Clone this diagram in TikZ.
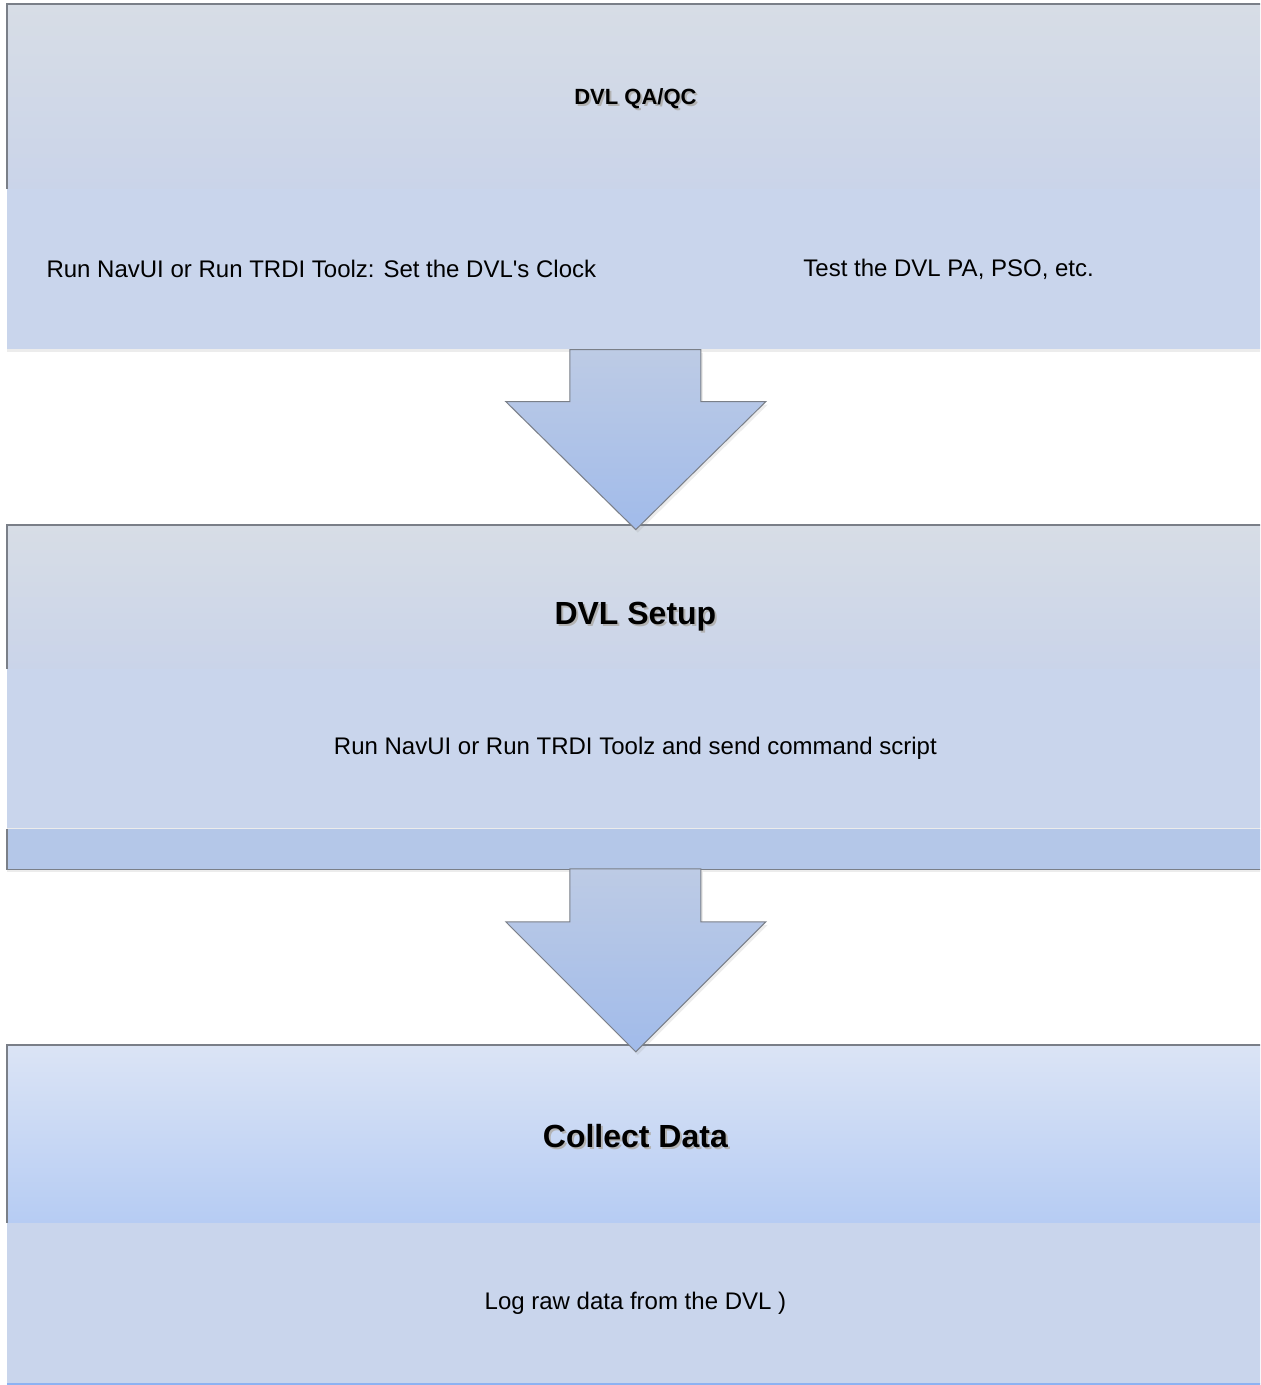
\documentclass[tikz,border=0pt]{standalone}
\usepackage{fontspec}
\setmainfont{Liberation Sans}
\usetikzlibrary{positioning,shadows}

\definecolor{hdtop}{HTML}{D7DDE6}
\definecolor{hdbot}{HTML}{CAD4E9}
\definecolor{bodyfill}{HTML}{C9D5EC}
\definecolor{stripfill}{HTML}{B4C7E8}
\definecolor{cdtop}{HTML}{DBE4F5}
\definecolor{cdbot}{HTML}{B6CCF3}
\definecolor{arrtop}{HTML}{BDCBE5}
\definecolor{arrbot}{HTML}{A1BBEA}
\definecolor{edgegray}{HTML}{7A7F88}
\definecolor{baseblue}{HTML}{8DB2F2}

\newcommand{\shadowed}[1]{\makebox[0pt][l]{\hspace{1pt}\raisebox{-1.1pt}{\textcolor{black!30}{#1}}}#1}

\begin{document}
\begin{tikzpicture}[x=0.5pt,y=-0.5pt,inner sep=0pt,
    boxshadow/.style={drop shadow={shadow xshift=0pt,shadow yshift=-1.5pt,opacity=0.15}},
    header/.style={rectangle,anchor=north west,minimum width=640pt,
        top color=hdtop,bottom color=hdbot,boxshadow},
    bodybox/.style={rectangle,anchor=north west,fill=bodyfill,font=\fontsize{12}{14}\selectfont,boxshadow},
    title/.style={font=\bfseries\fontsize{#1}{#1}\selectfont},
    rim/.style={draw=edgegray,line width=0.6pt},
    blockarrow/.style={draw=edgegray,line width=0.5pt,top color=arrtop,bottom color=arrbot,
        drop shadow={shadow xshift=1pt,shadow yshift=-1.5pt,opacity=0.15}}]
\useasboundingbox (0,0) rectangle (1260,1385);
\clip (0,0) rectangle (1260,1385);

% DVL QA/QC
\node[header,minimum height=92pt] (qahead) at (7,4) {};
\draw[rim] (qahead.south west) -- (qahead.north west) -- (qahead.north east);
\node[title=11] (qatitle) at ([xshift=-6pt,yshift=-1.5pt]qahead.center) {\shadowed{DVL QA/QC}};
\node[bodybox,minimum width=314pt,minimum height=80pt] (qaclock) at (qahead.south west)
    {Run NavUI or Run TRDI Toolz: Set the DVL\textquotesingle s Clock};
\node[bodybox,minimum width=326pt,minimum height=80pt] (qatest) at ([xshift=-0.8pt]qaclock.north east)
    {\hspace*{-12pt}Test the DVL PA, PSO, etc.};

% DVL Setup
\node[header,minimum height=71.5pt] (setuphead) at (7,525) {};
\draw[rim] (setuphead.south west) -- (setuphead.north west) -- (setuphead.north east);
\node[title=16] (setuptitle) at ([xshift=-6pt,yshift=-10.5pt]setuphead.center) {\shadowed{DVL Setup}};
\node[bodybox,minimum width=640pt,minimum height=79.5pt] (setupcmd) at (setuphead.south west)
    {\hspace*{-12pt}Run NavUI or Run TRDI Toolz and send command script};
\node[rectangle,anchor=north west,minimum width=640pt,minimum height=20pt,fill=stripfill,
    boxshadow] (setupstrip) at (setupcmd.south west) {};
\draw[rim] (setupstrip.north west) -- (setupstrip.south west) -- (setupstrip.south east);

% Collect Data
\node[header,minimum height=88.5pt,top color=cdtop,bottom color=cdbot] (cdhead) at (7,1045) {};
\draw[rim] (cdhead.south west) -- (cdhead.north west) -- (cdhead.north east);
\node[title=16] (cdtitle) at ([xshift=-6pt,yshift=-1.5pt]cdhead.center) {\shadowed{Collect Data}};
\node[bodybox,minimum width=640pt,minimum height=80.5pt] (cdlog) at (cdhead.south west)
    {\hspace*{-12pt}Log raw data from the DVL )};
\draw[baseblue,line width=1.2pt] (cdlog.south west) -- (cdlog.south east);

% block arrows
\draw[blockarrow] ([xshift=-33pt]qaclock.south east) -- ++(0,52) -- ++(-64,0) -- ++(130,128)
    -- ++(130,-128) -- ++(-65,0) -- ++(0,-52) -- cycle;
\draw[blockarrow] ([xshift=-33pt,yshift=0.3pt]setupstrip.south west -| qaclock.south east) -- ++(0,53) -- ++(-64,0)
    -- ++(130,130) -- ++(130,-130) -- ++(-65,0) -- ++(0,-53) -- cycle;
\end{tikzpicture}
\end{document}
